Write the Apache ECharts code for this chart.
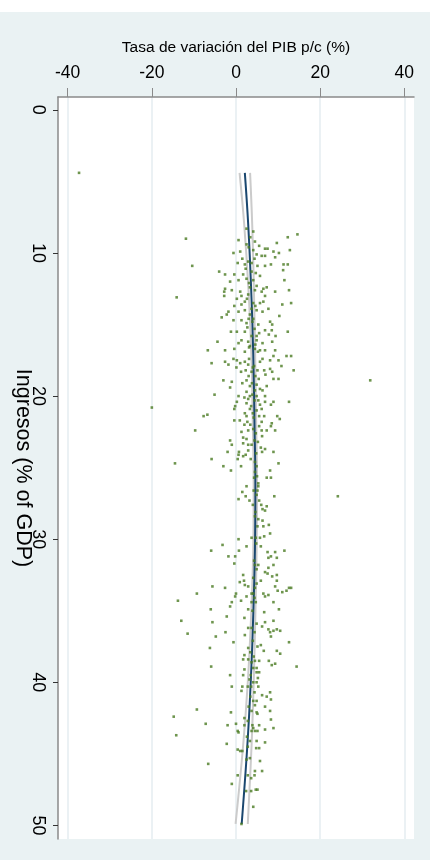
<!DOCTYPE html>
<html><head><meta charset="utf-8">
<script src="https://cdn.jsdelivr.net/npm/echarts@6/dist/echarts.min.js"></script>
<style>
html,body{margin:0;padding:0;background:#fff;width:438px;height:860px;overflow:hidden}
#bg{position:absolute;left:0;top:12px;width:430px;height:848px;background:#eaf2f3}
#chart{position:absolute;left:0;top:0;width:438px;height:860px}
</style></head><body>
<div id="bg"></div><div id="chart"></div>
<script>
const xTicks = [-40, -20, 0, 20, 40];
const yTicks = [0, 10, 20, 30, 40, 50];
const xTitle = 'Tasa de variación del PIB p/c (%)';
const yTitle = 'Ingresos (% of GDP)';

// fitted quadratic line and confidence interval (growth vs revenue)
const fitRevenue = [4.4, 8.0, 12.5, 17.1, 22.0, 26.2, 30.7, 35.3, 40.0, 44.4, 49.9];
const fitGrowth  = [2.1, 2.9, 3.6, 4.1, 4.4, 4.6, 4.5, 4.1, 3.5, 2.7, 1.35];
const ciLower    = [0.85, 1.95, 2.95, 3.65, 4.0, 4.2, 4.1, 3.6, 2.8, 1.7, -0.1];
const ciUpper    = [3.35, 3.85, 4.25, 4.55, 4.8, 5.0, 4.9, 4.6, 4.2, 3.7, 2.8];

// observations [growth, revenue]
const scatterPoints = [
[-37.3,4.4],[-20.0,20.8],[-14.5,24.7],[-14.1,13.1],[-13.8,34.3],[-13.0,35.7],[-14.8,42.4],[-14.2,43.7],[31.9,18.9],[24.2,27.0],
[-11.9,9.0],[14.6,8.7],[12.3,8.9],[9.7,9.3],[12.8,9.8],[0.6,9.1],[2.5,9.4],[3.4,8.9],[4.5,9.2],[5.5,9.5],[6.9,9.7],[7.5,9.7],[8.9,9.9],[10.2,10.0],[9.3,10.3],[-0.6,10.0],[1.0,9.9],[1.5,10.4],[4.1,9.8],[4.9,10.1],[6.1,10.2],[6.9,10.2],[-10.4,10.9],[-4.0,11.3],[0.4,10.7],[2.1,10.8],[3.7,10.7],[5.1,10.9],[6.9,10.9],[8.3,10.8],[11.3,10.8],[12.3,10.8],[11.2,11.2],[-2.6,11.5],[-0.4,11.5],[1.7,11.5],[2.5,11.8],[5.7,11.6],[11.5,11.9],[0.6,11.9],[-1.4,12.0],[-2.6,12.5],[-2.8,12.7],[-2.8,13.0],[-1.0,12.6],[1.0,12.7],[1.3,13.0],[2.9,12.9],[4.5,12.6],[6.5,12.5],[7.3,12.4],[6.1,12.7],[9.3,12.7],[6.9,13.0],[12.6,12.6],[0.2,13.2],[2.1,13.4],[4.1,13.5],[5.7,13.5],[6.5,13.4],[-0.4,13.7],[1.3,13.6],[0.6,14.1],[-1.8,14.1],[-3.4,14.5],[-2.2,14.3],[-0.6,14.7],[2.1,14.0],[3.3,14.3],[4.9,14.0],[6.3,14.1],[7.7,13.9],[13.1,13.5],[11.0,13.6],[10.3,14.4],[1.3,14.7],[2.5,14.9],[3.9,14.8],[5.3,15.0],[8.1,14.8],[8.6,15.0],[6.9,15.4],[8.5,15.4],[-1.2,15.5],[0.2,15.5],[2.1,15.5],[5.5,15.6],[7.8,15.7],[9.4,15.8],[12.3,15.5],[-4.4,16.2],[1.3,16.1],[2.9,16.2],[4.9,16.1],[6.3,16.3],[8.6,16.2],[0.6,16.3],[-6.7,16.8],[-2.6,16.8],[-0.4,16.7],[2.1,16.9],[4.5,16.7],[5.7,16.8],[6.9,16.8],[9.3,16.8],[3.3,16.5],[3.7,11.3],[4.1,11.9],[3.3,12.4],[3.7,13.9],[4.1,14.6],[4.4,15.3],[3.7,15.8],[4.6,16.4],[2.9,10.6],[4.1,8.5],[2.5,8.3],
[3.0,9.6],[4.4,10.4],[2.3,11.1],[4.7,11.4],[3.1,12.1],[4.9,12.3],[2.6,13.2],[4.6,13.7],[3.0,14.6],[2.7,15.2],[4.9,15.8],[3.1,16.6],[5.2,16.9],
[-5.8,17.7],[-2.6,17.6],[-1.8,17.8],[-0.6,17.4],[0.2,17.5],[1.0,17.7],[2.1,17.6],[2.9,17.8],[5.7,17.6],[6.3,17.4],[8.1,17.5],[8.9,17.2],[10.1,17.5],[12.0,17.2],[13.1,17.2],[10.8,17.9],[13.7,18.2],[0.1,18.0],[1.2,18.3],[2.3,18.2],[3.7,18.3],[5.1,18.2],[6.7,18.2],[8.1,18.1],[8.6,18.3],[7.0,18.5],[8.9,18.8],[10.1,18.8],[-3.0,18.9],[-1.0,19.0],[-1.4,19.4],[1.5,19.1],[2.5,18.9],[3.3,19.3],[4.9,19.2],[5.7,19.5],[6.3,19.6],[7.3,19.3],[4.5,19.6],[2.5,19.7],[-5.1,19.9],[0.6,20.0],[2.0,20.1],[3.3,20.0],[4.9,20.0],[6.9,20.0],[6.9,20.4],[0.2,20.4],[2.5,20.5],[5.7,20.6],[8.9,20.4],[8.3,20.6],[12.6,20.4],[-0.2,20.7],[-0.4,20.9],[3.3,20.9],[6.1,20.9],[4.9,21.0],[-7.7,21.4],[-6.8,21.3],[2.1,21.2],[2.5,21.4],[5.5,21.4],[6.7,21.4],[9.8,21.4],[10.4,21.6],[-0.4,21.7],[0.9,21.7],[2.7,21.8],[6.1,21.8],[8.5,21.9],[8.3,22.1],[2.0,22.0],[5.5,22.1],[-9.7,22.4],[1.3,22.5],[2.9,22.4],[6.1,22.4],[7.3,22.4],[9.3,22.4],[1.7,22.9],[2.5,23.0],[6.2,22.8],[-1.4,23.1],[-1.0,23.4],[1.7,23.3],[2.9,23.4],[3.7,23.4],[5.9,23.6],[6.9,23.7],[8.9,23.9],[-2.0,23.9],[0.7,23.9],[2.9,23.8],[6.2,23.9],[0.6,24.1],[1.7,24.2],[2.3,24.1],[-5.8,24.4],[0.4,24.4],[4.5,24.6],[10.1,24.7],[-3.0,24.9],[1.2,24.9],[4.9,24.9],[-1.2,25.2],[8.1,25.2],[4.5,25.3],[7.3,25.7],[8.3,25.7],[5.3,26.1],[4.3,17.9],[4.6,18.6],[3.9,19.9],[4.4,20.3],[4.2,21.5],[4.7,22.6],[4.4,23.1],[4.8,24.0],[4.3,25.7],
[3.1,17.4],[4.0,18.0],[3.0,18.6],[5.4,18.8],[3.8,19.1],[2.9,20.2],[5.3,20.3],[3.6,20.7],[4.0,21.2],[3.4,22.0],[4.1,22.3],[5.2,23.2],[3.5,24.4],[5.0,25.6],
[2.5,26.3],[5.3,26.3],[1.5,26.7],[2.3,27.0],[0.6,27.2],[3.2,27.3],[5.1,26.6],[4.9,26.9],[5.5,27.3],[9.1,27.0],[6.0,27.6],[6.3,27.9],[7.3,27.7],[6.9,28.0],[4.5,28.4],[5.3,28.6],[6.3,28.7],[5.1,29.1],[6.5,29.1],[7.8,29.0],[8.1,29.6],[0.6,30.0],[3.7,29.9],[4.7,29.9],[5.7,29.9],[6.7,29.8],[5.9,30.5],[-3.2,30.4],[2.5,30.5],[-5.9,30.8],[0.7,30.8],[-1.8,31.2],[-0.2,31.2],[7.5,30.9],[9.3,30.9],[11.5,30.8],[8.3,31.2],[7.7,31.3],[9.7,31.3],[-0.4,31.7],[4.5,31.8],[5.3,31.8],[8.9,31.8],[7.7,32.0],[4.9,32.1],[6.9,32.3],[7.5,32.4],[8.6,32.6],[9.7,32.5],[1.7,32.5],[4.1,32.7],[5.9,32.9],[9.7,32.9],[0.9,33.0],[1.9,32.9],[2.1,33.2],[2.9,33.3],[4.5,33.4],[9.3,33.3],[-5.6,33.3],[-2.6,33.4],[-9.3,33.8],[0.0,33.8],[4.1,33.8],[6.5,33.8],[7.7,33.9],[6.9,34.0],[9.9,33.6],[11.0,33.7],[12.0,33.6],[12.6,33.4],[13.1,33.4],[-0.2,34.0],[2.5,34.0],[3.7,33.8],[-1.0,34.4],[1.2,34.3],[3.7,34.4],[4.7,34.4],[8.9,34.4],[-6.0,34.9],[-1.4,34.7],[2.9,34.9],[6.7,35.1],[10.2,34.9],
[4.2,26.6],[4.0,27.6],[4.6,28.1],[4.8,30.3],[4.3,31.5],[4.9,33.1],[4.4,34.1],[3.9,35.0],
[-2.2,35.4],[2.0,35.5],[-5.6,35.8],[6.9,35.8],[8.9,35.7],[4.9,35.9],[2.9,36.2],[3.7,36.2],[6.2,36.1],[7.7,36.3],[8.1,36.5],[8.9,36.4],[9.7,36.3],[10.5,36.4],[-11.5,36.6],[-2.5,36.5],[-4.8,36.8],[2.1,36.7],[8.3,36.8],[-0.6,37.2],[5.1,37.5],[5.9,37.4],[12.6,37.2],[-6.2,37.6],[2.9,37.6],[6.6,37.8],[9.7,37.8],[10.5,38.0],[2.0,38.1],[1.7,38.4],[2.9,38.4],[3.7,38.6],[4.5,38.5],[5.5,38.5],[7.8,38.5],[8.5,38.8],[9.3,38.7],[-5.9,38.9],[14.4,38.9],[2.0,39.1],[4.1,39.0],[4.9,39.0],[4.9,39.3],[5.5,39.3],[3.5,39.5],[-1.4,39.5],[1.7,39.5],[5.2,39.7],[4.9,40.0],[4.1,40.0],[-1.0,40.3],[1.5,40.3],[2.8,40.3],[3.6,40.3],[5.3,40.3],[1.3,40.6],[6.2,40.9],[7.3,41.0],[8.1,40.7],[8.3,41.2],[4.1,41.3],[4.9,41.3],[4.5,41.6],[6.9,41.7],[8.1,42.0],[-9.3,41.9],[3.7,42.0],[4.9,42.1],[5.1,42.2],[-1.2,42.1],[2.0,42.5],[8.3,42.6],[-7.2,42.9],[-2.0,43.0],[0.0,42.9],[2.0,43.0],[5.5,43.0],[2.8,42.7],[4.1,43.2],[4.5,43.4],[5.1,43.4],[6.9,43.3],[8.9,43.2],[0.4,43.4],[0.6,43.5],[3.7,43.4],[-2.2,44.3],[3.3,44.1],[4.9,44.1],[6.9,44.2],
[4.4,36.5],[4.0,37.1],[3.4,37.9],[4.2,38.2],[3.2,39.8],[4.4,40.7],[3.4,41.0],[3.0,41.7],[3.9,43.0],[2.6,43.8],
[0.4,44.7],[1.0,44.8],[1.5,44.8],[2.8,44.5],[4.8,44.6],[5.5,44.6],[-6.6,45.7],[2.5,45.4],[3.3,45.3],[5.7,45.5],[4.5,46.2],[6.2,46.2],[0.4,46.5],[2.8,46.5],[3.6,46.7],[4.4,46.5],[-1.0,47.1],[2.4,47.6],[3.6,47.6],[4.7,47.5],[5.1,47.5],[4.1,48.7],[1.3,49.9]
];

const sans = "'Liberation Sans', Arial, sans-serif";
const axisGray = '#8a8a8a';

const chart = echarts.init(document.getElementById('chart'), null, {renderer: 'canvas'});
chart.setOption({
  animation: false,
  grid: {left: 58, right: 24, top: 97, bottom: 21, show: true, backgroundColor: '#ffffff', borderWidth: 0},
  xAxis: {
    type: 'value', position: 'top', min: -42.3, max: 42.3,
    name: xTitle, nameLocation: 'middle', nameGap: 41, nameMoveOverlap: false,
    nameTextStyle: {fontFamily: sans, fontSize: 15.5, color: '#000'},
    axisLine: {show: true, onZero: false, lineStyle: {color: axisGray, width: 1.5}},
    axisTick: {show: true, length: 9, customValues: xTicks, lineStyle: {color: axisGray, width: 1}},
    axisLabel: {customValues: xTicks, margin: 15, fontFamily: sans, fontSize: 17.5, color: '#000'},
    splitLine: {show: true, lineStyle: {color: '#e4edf0', width: 1.5}}
  },
  yAxis: {
    type: 'value', inverse: true, min: -0.9, max: 50.95,
    name: yTitle, nameLocation: 'middle', nameRotate: -90, nameGap: 24, nameMoveOverlap: false,
    nameTextStyle: {fontFamily: sans, fontSize: 21.5, color: '#000'},
    axisLine: {show: true, onZero: false, lineStyle: {color: axisGray, width: 1.5}},
    axisTick: {show: true, length: 5, customValues: yTicks, lineStyle: {color: '#333', width: 1}},
    axisLabel: {customValues: yTicks, rotate: -90, margin: 11, fontFamily: sans, fontSize: 18, color: '#000'},
    splitLine: {show: false}
  },
  series: [
    {type: 'line', name: 'ci_low', data: fitRevenue.map((r, i) => [ciLower[i], r]), smooth: 0.4,
     symbol: 'none', lineStyle: {color: '#cbcbcb', width: 2}, z: 2},
    {type: 'line', name: 'ci_high', data: fitRevenue.map((r, i) => [ciUpper[i], r]), smooth: 0.4,
     symbol: 'none', lineStyle: {color: '#cbcbcb', width: 2}, z: 2},
    {type: 'line', name: 'fit', data: fitRevenue.map((r, i) => [fitGrowth[i], r]), smooth: 0.4,
     symbol: 'none', lineStyle: {color: '#1a476f', width: 2}, z: 3},
    {type: 'scatter', name: 'obs', data: scatterPoints, symbol: 'rect', symbolSize: 2.6,
     itemStyle: {color: '#4a7a22'}, z: 4}
  ]
});
</script>
</body></html>
